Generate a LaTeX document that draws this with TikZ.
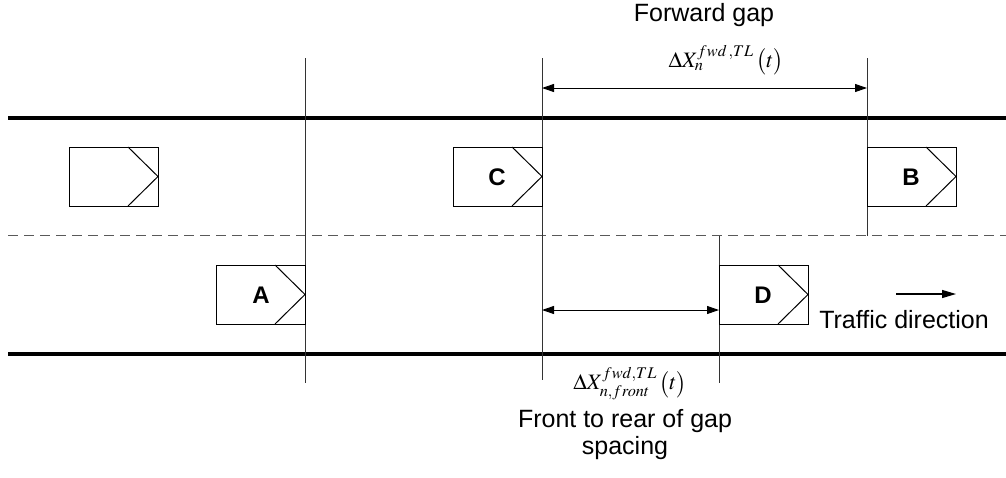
\documentclass[tikz,border=0pt]{standalone}
\usepackage{mathptmx}
\usepackage{fontspec}
\setmainfont{Liberation Sans}
\usetikzlibrary{arrows.meta}
\tikzset{
  road/.style={line width=4pt},
  lane/.style={line width=1pt, dash pattern=on 10pt off 6pt, gray!70!black},
  marker/.style={line width=1pt, black!80},
  gaparrow/.style={line width=1pt, {Triangle[length=12pt,width=8pt]}-{Triangle[length=12pt,width=8pt]}},
  dirarrow/.style={line width=1.2pt, -{Triangle[length=14pt,width=8pt]}},
  carlabel/.style={font=\fontsize{24}{28}\selectfont\bfseries, inner sep=0pt},
  txt/.style={font=\fontsize{25}{29}\selectfont, inner sep=0pt, align=center},
  formula/.style={font=\fontsize{22}{26}\selectfont, inner sep=0pt},
  car/.pic={\draw[line width=1pt] (-89,-29.5) rectangle (0,29.5);
            \draw[line width=1pt] (-30,-29.5) -- (0,0) -- (-30,29.5);}
}
\begin{document}
\begin{tikzpicture}[x=1pt,y=-1pt]
\useasboundingbox (0,0) rectangle (1006,477);
% road
\coordinate (rtl) at (8,118); \coordinate (rtr) at (1006,118);
\coordinate (rbl) at (8,354); \coordinate (rbr) at (1006,354);
\coordinate (ll) at (8,235); \coordinate (lr) at (1006,235);
\draw[road] (rtl) -- (rtr);
\draw[road] (rbl) -- (rbr);
\draw[lane] (ll) -- (lr);
% vertical markers
\coordinate (v1t) at (305,58); \coordinate (v1b) at (305,383);
\coordinate (v2t) at (542,58); \coordinate (v2b) at (542,380);
\coordinate (v3t) at (867,58); \coordinate (v3b) at (867,236);
\coordinate (v4t) at (719,236); \coordinate (v4b) at (719,383);
\draw[marker] (v1t) -- (v1b);
\draw[marker] (v2t) -- (v2b);
\draw[marker] (v3t) -- (v3b);
\draw[marker] (v4t) -- (v4b);
% cars
\pic at (158,176.5) {car};
\pic at (542,176.5) {car};
\pic at (956,176.5) {car};
\pic at (305,294.5) {car};
\pic at (808,294.5) {car};
\node[carlabel] (C) at (497,177) {C};
\node[carlabel] (B) at (911,177) {B};
\node[carlabel] (A) at (261,295) {A};
\node[carlabel] (D) at (763,295) {D};
% forward gap
\coordinate (fa) at (542,88); \coordinate (fb) at (867,88);
\draw[gaparrow] (fa) -- (fb);
\node[txt, anchor=base] (fg) at (704,21) {Forward gap};
\node[formula] (f1) at (726,60) {$\Delta X_{n}^{fwd\,,TL}\,\bigl(t\bigr)$};
% front gap
\coordinate (ga) at (542,310); \coordinate (gb) at (719,310);
\draw[gaparrow] (ga) -- (gb);
\node[formula] (f2) at (630,384) {$\Delta X_{n,front}^{fwd,TL}\,\bigl(t\bigr)$};
\node[txt, anchor=base] (fr) at (625,427) {Front to rear of gap};
\node[txt, anchor=base] (sp) at (625,454) {spacing};
% traffic direction
\coordinate (ta) at (896,294); \coordinate (tb) at (956,294);
\draw[dirarrow] (ta) -- (tb);
\node[txt, anchor=base] (td) at (904,328) {Traffic direction};
\end{tikzpicture}
\end{document}
